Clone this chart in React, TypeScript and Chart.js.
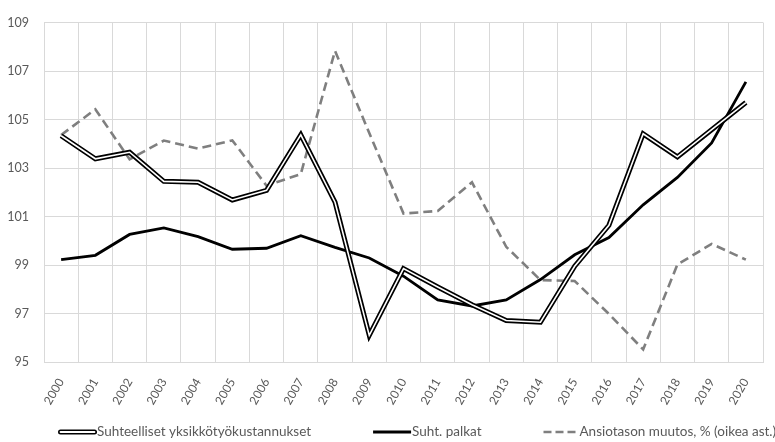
import React, { useEffect, useRef } from "react";
import { Chart, registerables } from "chart.js";

Chart.register(...registerables);

const years = ["2000","2001","2002","2003","2004","2005","2006","2007","2008","2009","2010","2011","2012","2013","2014","2015","2016","2017","2018","2019","2020"];
const relUnitLabourCosts = [104.33,103.38,103.65,102.45,102.41,101.68,102.08,104.37,101.59,96.1,98.85,98.09,97.36,96.71,96.64,98.95,100.64,104.41,103.46,104.58,105.70];
const relWages = [99.22,99.40,100.26,100.53,100.17,99.65,99.69,100.21,99.73,99.29,98.54,97.56,97.31,97.56,98.40,99.42,100.13,101.48,102.61,104.03,106.55];
const earningsChange = [104.36,105.42,103.36,104.13,103.80,104.14,102.27,102.75,107.83,104.44,101.12,101.23,102.41,99.75,98.38,98.34,96.98,95.52,99.02,99.87,99.22];
const seriesNames = ["Suhteelliset yksikkötyökustannukset", "Suht. palkat", "Ansiotason muutos, % (oikea ast.)"];
const yMin = 95;
const yMax = 109;
const yStep = 2;

const FONT = "Lato";
const TEXT = "#595959";
const GRID = "#d9d9d9";
const DASH = "#7f7f7f";

function drawSample(ctx: CanvasRenderingContext2D, kind: string, x: number, y: number, w: number) {
  ctx.save();
  if (kind === "double") {
    ctx.lineCap = "round";
    ctx.strokeStyle = "#000";
    ctx.lineWidth = 5;
    ctx.beginPath(); ctx.moveTo(x + 2.5, y); ctx.lineTo(x + w - 2.5, y); ctx.stroke();
    ctx.strokeStyle = "#fff";
    ctx.lineWidth = 1.8;
    ctx.beginPath(); ctx.moveTo(x + 2.5, y); ctx.lineTo(x + w - 2.5, y); ctx.stroke();
  } else if (kind === "solid") {
    ctx.lineCap = "butt";
    ctx.strokeStyle = "#000";
    ctx.lineWidth = 2.8;
    ctx.beginPath(); ctx.moveTo(x, y); ctx.lineTo(x + w, y); ctx.stroke();
  } else {
    ctx.lineCap = "butt";
    ctx.strokeStyle = DASH;
    ctx.lineWidth = 2.6;
    ctx.setLineDash([8, 4]);
    ctx.beginPath(); ctx.moveTo(x, y); ctx.lineTo(x + w, y); ctx.stroke();
  }
  ctx.restore();
}

const legendKinds = ["double", "solid", "dash"];

const bottomLegend = {
  id: "bottomLegend",
  afterDraw(chart: any) {
    const ctx: CanvasRenderingContext2D = chart.ctx;
    ctx.save();
    ctx.font = `13.5px ${FONT}`;
    ctx.fillStyle = TEXT;
    ctx.textBaseline = "middle";
    ctx.textAlign = "left";
    const y = chart.chartArea.bottom + 70;
    let x = 58;
    const sampleW = [39, 38, 32];
    const textGap = [0, 1, 4];
    const itemGap = 62;
    seriesNames.forEach((name, i) => {
      drawSample(ctx, legendKinds[i], x, y, sampleW[i]);
      const tx = x + sampleW[i] + textGap[i];
      ctx.fillText(name, tx, y);
      x = tx + ctx.measureText(name).width + itemGap;
    });
    ctx.restore();
  },
};

export default function App() {
  const ref = useRef<HTMLCanvasElement>(null);

  useEffect(() => {
    if (!ref.current) return;
    const chart = new Chart(ref.current, {
      type: "line",
      data: {
        labels: years,
        datasets: [
          {
            label: seriesNames[0] + " (inner)",
            data: relUnitLabourCosts,
            borderColor: "#ffffff",
            borderWidth: 1.6,
            pointRadius: 0,
            tension: 0,
            order: 0,
          },
          {
            label: seriesNames[0],
            data: relUnitLabourCosts,
            borderColor: "#000000",
            borderWidth: 5,
            pointRadius: 0,
            tension: 0,
            order: 1,
          },
          {
            label: seriesNames[1],
            data: relWages,
            borderColor: "#000000",
            borderWidth: 2.8,
            pointRadius: 0,
            tension: 0,
            order: 2,
          },
          {
            label: seriesNames[2],
            data: earningsChange,
            borderColor: DASH,
            borderWidth: 2.6,
            borderDash: [9, 5],
            pointRadius: 0,
            tension: 0,
            order: 3,
          },
        ],
      },
      options: {
        responsive: false,
        animation: false,
        layout: { padding: { top: 18, right: 12, left: 0, bottom: 0 } },
        plugins: {
          tooltip: { enabled: false },
          legend: { display: false },
        },
        scales: {
          x: {
            offset: true,
            grid: { offset: true, color: GRID, drawTicks: false, lineWidth: 1 },
            border: { color: GRID },
            ticks: {
              autoSkip: false,
              maxRotation: 60,
              minRotation: 60,
              padding: 14,
              color: TEXT,
              font: { family: FONT, size: 12 },
            },
            afterFit: (s: any) => { s.height = 80; },
          },
          y: {
            min: yMin,
            max: yMax,
            grid: { color: GRID, drawTicks: false, lineWidth: 1 },
            border: { color: GRID },
            ticks: {
              stepSize: yStep,
              padding: 15,
              color: TEXT,
              font: { family: FONT, size: 12.5 },
            },
            afterFit: (s: any) => { s.width = 44; },
          },
        },
      },
      plugins: [bottomLegend],
    });
    return () => chart.destroy();
  }, []);

  return (
    <div style={{ position: "absolute", left: 0, top: 0, width: 775, height: 442 }}>
      <canvas ref={ref} width={775} height={442} />
    </div>
  );
}
